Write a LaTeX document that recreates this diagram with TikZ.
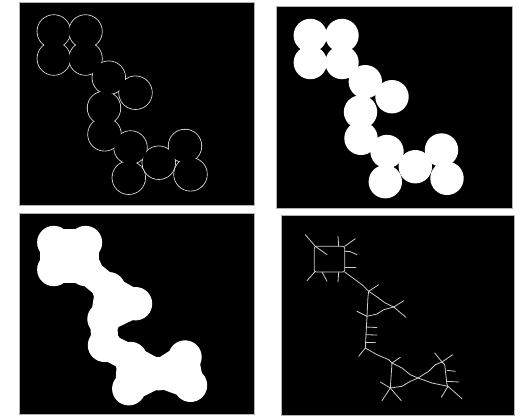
\documentclass[tikz,border=0pt]{standalone}
\begin{document}
\begin{tikzpicture}[x=1pt,y=-1pt,
  frame/.style={draw=black!30,line width=0.8pt,fill=black},
  blob/.style={fill=white},
  rim/.style={draw=white!85!black,line width=0.9pt},
  bone/.style={draw=white!80!black,line width=0.8pt,line join=round,line cap=round},
  neck/.style={draw=white,line width=27pt}]
\useasboundingbox (0,0) rectangle (524,416);
\def\circs{310.3/35.5,342/35.5,310.3/62.5,342/62.5,365.3/81.7,392/96.7,360.5/112,361/138.3,387/151.5,415.3/166.7,441.5/150,385.3/181.7,447/178.3}
\def\rad{16.7}
% frames
\path[frame] (19.5,2) rectangle (254,205);
\path[frame] (276,6) rectangle (512,208);
\path[frame] (19.5,213) rectangle (254,414);
\path[frame] (281,215) rectangle (514,415.6);
% panel 1: outline of the union of circles
\begin{scope}
\clip (20,2.5) rectangle (253.5,204.5);
\begin{scope}[shift={(-256.5,-4)}]
\foreach \x/\y in \circs {\path[rim] (\x,\y) circle (\rad);}
\foreach \x/\y in \circs {\fill[black] (\x,\y) circle (\rad-0.45);}
\end{scope}
\end{scope}
% panel 2: filled circles
\begin{scope}
\clip (276.5,6.5) rectangle (511.5,207.5);
\foreach \x/\y in \circs {\path[blob] (\x,\y) circle (\rad);}
\end{scope}
% panel 3: closed blob
\begin{scope}
\clip (20,213.5) rectangle (253.5,413.5);
\begin{scope}[shift={(-256.5,207)}]
\foreach \x/\y in \circs {\path[blob] (\x,\y) circle (\rad);}
\path[blob] (310.3,35.5) -- (342,35.5) -- (342,62.5) -- (310.3,62.5) -- cycle;
\foreach \a/\b/\c/\d in {310.3/35.5/342/35.5, 310.3/35.5/310.3/62.5, 342/35.5/342/62.5, 310.3/62.5/342/62.5,
  342/62.5/365.3/81.7, 365.3/81.7/392/96.7, 365.3/81.7/360.5/112, 392/96.7/360.5/112, 360.5/112/361/138.3,
  361/138.3/387/151.5, 387/151.5/415.3/166.7, 387/151.5/385.3/181.7, 415.3/166.7/441.5/150,
  415.3/166.7/385.3/181.7, 415.3/166.7/447/178.3, 441.5/150/447/178.3}
  {\path[neck] (\a,\b) -- (\c,\d);}
\end{scope}
\end{scope}
% panel 4: skeleton
\path[bone,rounded corners=2pt] (314.3,246.3) -- (344.7,246.3) -- (344.7,272) -- (314.3,272) -- cycle;
\path[bone] (315.3,246.3) -- (305.3,234.7);
\path[bone] (315.3,246.3) -- (327,254.7);
\path[bone] (338.7,246.3) -- (338,236.3);
\path[bone] (344.7,246.3) -- (355.3,238.7);
\path[bone] (344.7,251.3) -- (350,251.5) -- (357,254.7);
\path[bone] (344.7,267) -- (356,267);
\path[bone] (338.7,272) -- (338,282);
\path[bone] (322,272) -- (327,281.3);
\path[bone] (315.3,271.3) -- (307,280.7);
\path[bone] (344.7,272) -- (362,284.7) -- (368.7,291.3);
\path[bone] (368.7,291.3) -- (378.7,284.7);
\path[bone] (368.7,291.3) -- (375.3,295.7) -- (385.3,303) -- (393.7,307);
\path[bone] (368.7,291.3) -- (368,296.3) -- (367,316.3);
\path[bone] (367,316.3) -- (377,314) -- (383.7,309.7) -- (393.7,307);
\path[bone] (393.7,307) -- (403.7,300.7);
\path[bone] (393.7,307) -- (406,317.3);
\path[bone] (367,316.3) -- (357,311.3);
\path[bone] (367,316.3) -- (365.3,348);
\path[bone] (366,327) -- (377,327.5);
\path[bone] (365.7,334.7) -- (377,335);
\path[bone] (365.5,342) -- (375.3,342);
\path[bone] (365.3,348) -- (358.7,356.3);
\path[bone] (365.3,348) -- (377,354.7) -- (388.7,359.7) -- (392,363);
\path[bone] (392,363) -- (400.3,357.3);
\path[bone] (392,363) -- (390.3,388);
\path[bone] (392,363) -- (402,368) -- (410.3,374.7) -- (418,378);
\path[bone] (390.3,388) -- (402,386.3) -- (410.3,381.3) -- (418,378);
\path[bone] (390.3,388) -- (380.3,382);
\path[bone] (390.3,388) -- (382,400.7);
\path[bone] (390.3,388) -- (401.3,400.7);
\path[bone] (418,378) -- (428.7,371.3) -- (435.3,364.7) -- (442,362);
\path[bone] (418,378) -- (432,383) -- (448,386.3);
\path[bone] (442,362) -- (444.7,364.7) -- (447,384.7) -- (448,386.3);
\path[bone] (442,362) -- (434.7,353);
\path[bone] (442,362) -- (452.7,354.7);
\path[bone] (447,370.3) -- (455.3,371.3);
\path[bone] (447,381.3) -- (458.7,382);
\path[bone] (448,386.3) -- (441.3,397.3);
\path[bone] (448,386.3) -- (462,398.7);
\end{tikzpicture}
\end{document}
